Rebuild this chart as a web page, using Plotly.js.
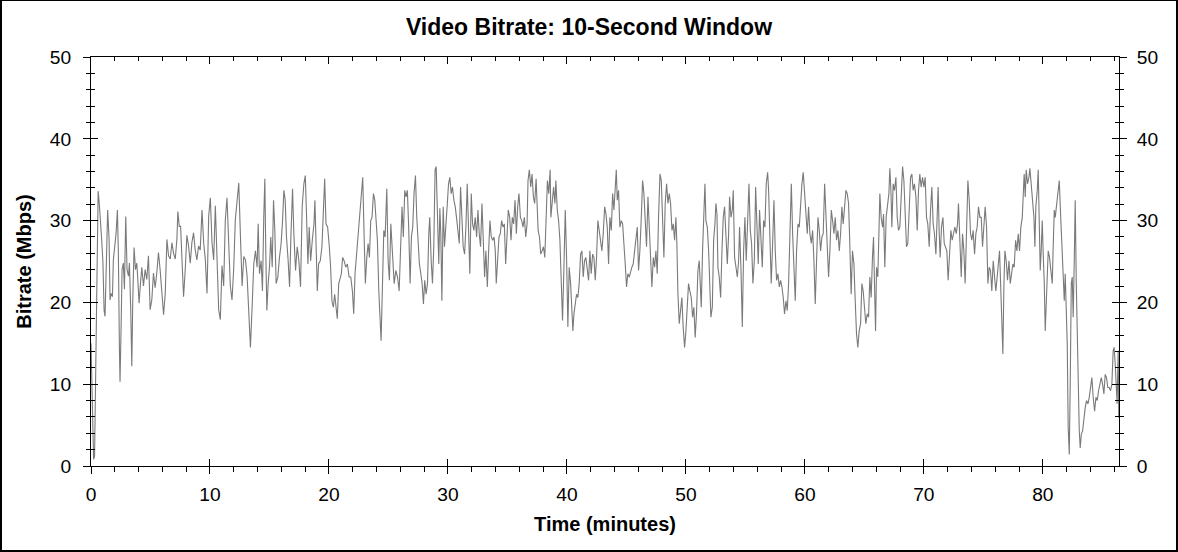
<!DOCTYPE html>
<html>
<head>
<meta charset="utf-8">
<script src="https://cdn.plot.ly/plotly-3.0.1.min.js"></script>
<style>
html,body{margin:0;padding:0;background:#fff;}
#frame{width:1174px;height:549px;border-left:2px solid #000;border-right:2px solid #000;border-bottom:2px solid #000;border-top:1px solid #000;background:#fff;}
#chart{width:1174px;height:549px;}
</style>
</head>
<body>
<div id="frame"><div id="chart"></div></div>
<script>
// Time in minutes
const minutes = [
0.00,0.10,0.22,0.30,0.40,0.50,0.60,0.70,0.80,0.90,1.00,1.10,1.18,1.32,1.40,1.52,1.60,1.69,1.80,1.88,
2.02,2.11,2.22,2.30,2.39,2.44,2.53,2.61,2.72,2.81,2.92,3.03,3.15,3.23,3.34,3.43,3.51,3.62,3.74,3.85,
3.93,4.04,4.16,4.27,4.41,4.55,4.69,4.83,4.97,5.11,5.25,5.39,5.53,5.67,5.81,5.96,6.10,6.24,6.38,6.52,
6.66,6.80,6.94,7.08,7.22,7.30,7.42,7.53,7.64,7.78,7.92,8.06,8.20,8.34,8.48,8.62,8.76,8.90,9.04,9.18,
9.33,9.47,9.61,9.75,9.89,10.03,10.17,10.31,10.45,10.59,10.73,10.87,11.01,11.15,11.29,11.43,11.57,11.71,11.85,11.99,
12.13,12.28,12.42,12.56,12.70,12.84,12.98,13.12,13.26,
13.40,13.54,13.68,13.82,13.96,14.05,14.16,14.30,14.41,14.52,14.61,14.69,14.78,14.89,15.00,15.11,15.23,15.34,15.45,15.56,
15.70,15.84,15.98,16.10,16.21,16.32,16.43,16.57,16.69,16.80,16.94,17.05,17.19,17.33,17.47,17.61,17.75,17.89,18.01,18.12,
18.23,18.34,18.46,18.60,18.74,18.82,18.93,19.02,19.13,19.27,19.41,19.52,19.64,19.75,19.89,20.03,20.14,20.25,20.37,20.48,
20.59,20.70,20.82,20.93,21.04,21.15,21.27,21.41,21.55,21.69,21.83,21.97,22.08,22.19,22.33,22.47,22.59,22.70,22.84,22.95,
23.06,23.18,23.29,23.40,23.51,23.62,23.74,23.85,23.96,24.07,24.19,24.30,24.38,24.50,24.61,24.72,24.86,24.97,25.08,25.20,
25.34,25.48,25.62,25.76,25.90,
26.03,26.14,26.25,26.37,26.48,26.59,26.70,26.82,26.93,27.04,27.15,27.27,27.38,27.49,27.60,27.72,27.83,27.94,28.05,28.16,
28.28,28.39,28.47,28.59,28.70,28.81,28.92,29.01,29.12,29.23,29.32,29.40,29.49,29.60,29.71,29.82,29.93,30.05,30.16,30.27,
30.38,30.50,30.61,30.72,30.83,30.95,31.06,31.17,31.28,31.40,31.51,31.62,31.73,31.84,31.96,32.07,32.18,32.29,32.41,32.52,
32.63,32.74,32.86,32.97,33.08,33.19,33.31,33.42,33.53,33.64,33.76,33.87,33.98,34.06,34.18,34.29,34.40,34.51,34.63,34.74,
34.85,34.96,35.07,35.19,35.30,35.41,35.52,35.64,35.75,35.86,35.97,36.09,36.20,36.31,36.42,36.54,36.65,36.73,36.84,36.96,
37.07,37.18,37.29,37.41,37.49,37.58,37.69,37.80,37.91,38.03,38.14,38.25,38.36,38.47,38.59,
38.65,38.77,38.88,38.99,39.07,39.19,39.30,39.41,39.52,39.63,39.75,39.86,39.97,40.08,40.19,40.31,40.42,40.50,40.59,40.70,
40.81,40.92,41.03,41.15,41.26,41.37,41.48,41.59,41.71,41.82,41.93,42.04,42.16,42.27,42.38,42.49,42.60,42.72,42.83,42.94,
43.05,43.17,43.28,43.39,43.50,43.61,43.73,43.84,43.95,44.06,44.15,44.23,44.34,44.45,44.57,44.68,44.79,44.90,45.01,45.12,
45.24,45.35,45.46,45.57,45.69,45.80,45.91,46.02,46.13,46.25,46.36,46.47,46.58,46.69,46.81,46.92,47.03,47.14,47.26,47.37,
47.48,47.59,47.70,47.82,47.93,48.04,48.15,48.26,48.38,48.49,48.60,48.71,48.83,48.94,49.05,49.16,49.24,49.33,49.44,49.55,
49.66,49.77,49.89,50.00,50.11,50.22,50.33,50.45,50.56,50.67,50.78,50.89,51.01,51.12,
51.18,51.29,51.40,51.52,51.60,51.68,51.80,51.91,52.02,52.10,52.22,52.33,52.44,52.52,52.61,52.69,52.80,52.92,53.03,53.14,
53.25,53.36,53.48,53.59,53.67,53.79,53.90,53.98,54.09,54.21,54.32,54.43,54.51,54.63,54.74,54.85,54.96,55.07,55.19,55.30,
55.41,55.52,55.63,55.75,55.86,55.97,56.08,56.19,56.31,56.42,56.53,56.64,56.75,56.87,56.95,57.06,57.17,57.29,57.40,57.51,
57.62,57.73,57.85,57.96,58.07,58.18,58.29,58.41,58.52,58.63,58.74,58.86,58.97,59.08,59.19,59.30,59.42,59.53,59.64,59.75,
59.86,59.98,60.09,60.20,60.31,60.42,60.54,60.65,60.76,60.87,60.98,61.10,61.21,61.32,61.43,61.54,61.66,61.77,61.88,61.99,
62.10,62.22,62.33,62.44,62.55,62.66,62.78,62.89,63.00,63.11,63.22,63.34,63.45,63.56,63.67,63.75,
63.89,64.00,64.12,64.23,64.34,64.45,64.56,64.68,64.79,64.90,65.01,65.12,65.24,65.35,65.46,65.57,65.68,65.77,65.85,65.94,
66.02,66.13,66.22,66.30,66.41,66.53,66.61,66.72,66.83,66.95,67.06,67.14,67.23,67.31,67.42,67.53,67.65,67.76,67.87,67.98,
68.09,68.21,68.32,68.43,68.54,68.65,68.77,68.88,68.99,69.10,69.21,69.33,69.44,69.55,69.66,69.77,69.89,70.00,70.11,70.22,
70.33,70.45,70.56,70.67,70.78,70.89,71.01,71.12,71.20,71.29,71.37,71.48,71.60,71.71,71.82,71.93,72.04,72.16,72.27,72.38,
72.49,72.60,72.72,72.83,72.91,73.02,73.14,73.25,73.36,73.47,73.58,73.70,73.81,73.92,74.03,74.14,74.26,74.37,74.48,74.59,
74.71,74.82,74.93,75.04,75.15,75.27,75.38,75.49,75.60,75.71,75.83,75.94,76.05,76.16,76.28,76.36,
76.47,76.56,76.64,76.73,76.81,76.92,77.03,77.15,77.26,77.37,77.48,77.59,77.71,77.82,77.93,78.04,78.15,78.27,78.35,78.43,
78.52,78.60,78.71,78.83,78.91,79.02,79.13,79.25,79.33,79.41,79.53,79.61,79.69,79.78,79.86,79.95,80.03,80.12,80.20,80.28,
80.37,80.45,80.56,80.68,80.79,80.87,80.96,81.04,81.15,81.26,81.38,81.49,81.60,81.71,81.80,81.88,81.96,82.05,82.13,82.22,
82.30,82.39,82.47,82.55,82.64,82.72,82.81,82.89,82.97,83.06,83.14,83.23,83.34,83.45,83.56,83.67,83.79,83.90,84.01,84.12,
84.23,84.35,84.46,84.57,84.68,84.79,84.91,85.02,85.13,85.24,85.35,85.46,85.58,85.69,85.80,85.91,85.99,86.08,86.16,86.24,
86.33,86.38
];

// Video bitrate in Mbps (10-second window)
const bitrateMbps = [
15,6,0.8,1.2,11,22,33.6,32,28.8,27.6,25,19,18.3,25.2,31.3,27.7,20.3,21.1,20.7,25.2,
27.3,28.5,31.3,26,14.2,10.3,17,24,24.8,21.6,30.5,24,23.2,24.8,19.1,12.2,20.2,26.7,24,24.8,
22.9,19.9,22.4,24.3,22,24,22.8,25.7,19.1,20.3,23.6,21.8,23.6,26.1,24,21.1,18.5,21.1,27.7,25.7,
25.3,27.3,26,25.3,27.7,31.1,29.3,29.3,26,20.7,24,28.2,26.9,24.8,27.3,28.5,26.4,25.2,26.9,26.4,
31.3,27.3,25.2,21.1,30.5,32.8,27.3,25.2,31.8,24,19.1,17.9,24.5,22,30.1,32.8,27.3,22,20.3,24,
30.1,33,34.6,28.1,22,25.6,25.2,23.2,19.1,
14.5,19.4,24.7,26.3,24.3,29.6,23.5,25.1,21.4,30.4,35.1,26.3,19,22.3,24.3,28,24.3,32.5,28.8,22.3,
23.1,25.5,27.2,30,33.7,32.5,28,25.1,21.9,28,33.9,28.4,23.9,26.8,25.1,21.9,31.7,34.5,35.5,30.4,
24.7,29.2,25.1,27.6,29.6,32.5,25.5,21.4,24.7,25.1,26.8,30.4,35.1,29.6,29.2,26.8,24.3,20.2,19.4,21,
19.8,18,22.3,23.1,23.5,25.5,25.1,24.3,24.7,23.1,23.1,21.4,18.6,23.5,26.3,28.8,30.4,32.5,35.3,28.4,
22.3,25.5,27.2,25.5,30,30.4,33.3,32.5,30.4,27.6,21.4,18.2,15.3,22.3,28.8,28,33.9,25.1,22.7,29.6,
25.9,22.3,23.9,23.1,21.4,
26.8,31.7,28,33.7,32.9,33.7,29.2,22.3,28,29.2,33.3,35.5,30.4,27.2,24.7,23.5,22.3,19.8,22.7,21,
22.3,28.4,30.4,25.1,22.3,26.8,36.2,36.6,30.4,24.7,31.5,28.4,20.2,31.7,26.8,30,31.7,34.5,35.3,33.3,
34.1,32.5,31.7,30.4,29.2,27.2,34.1,30.4,26.8,25.9,29.2,34.5,29.6,23.5,33.3,29.6,28.8,30.4,28,31.3,
28.4,26.8,32.1,28.4,23.1,26.3,21.9,26.3,30,28,27.6,28,26.3,22.3,26.3,28,28.4,30,29.2,29.6,
24.7,28.4,31.3,30.4,27.6,30.4,29.6,32.5,28.4,31.7,33.3,30.4,30,29.2,30.4,28,29.6,34.9,36.2,34.1,
35.7,32.9,32.1,35.1,32.1,28.8,28,25.9,26.3,26.8,25.5,30.4,34.9,33.3,36.2,
30.4,32.9,34.1,32.1,34.9,31.3,30,27.6,21.4,17.8,24.3,31.3,25.5,17,24.3,22.3,19,16.5,18.6,19.8,
21,20.6,22.3,25.9,26.3,23.1,25.1,25.5,24.3,22.7,26.3,23.5,25.9,25.5,22.7,25.5,30,28.8,27.6,26.3,
28.4,31.7,30.8,29.2,24.7,30.4,28.8,33.3,31.3,34.1,36.2,32.5,33.7,29.2,30,29.6,26.3,24.7,21.9,23.5,
23.1,23.9,24.3,24.7,26.3,28.4,29.2,23.9,26.3,30.4,34.9,33.3,30.4,26.8,32.9,29.2,24.3,21.9,25.5,24.3,
26.3,23.5,30.4,35.7,34.9,30.4,25.5,32.1,34.5,32.1,33.3,32.1,28.8,29.6,27.6,30.4,27.2,21,17.4,19,
20.6,17,14.5,16.5,19.8,22.3,21.4,20.6,18.2,19.4,15.7,18.6,23.9,25.1,
23.1,19.4,26.3,32.5,34.5,30,29.2,26.3,20.6,18.2,19.4,27.6,29.6,32.1,30.8,24.3,23.1,20.6,26.3,30.4,
31.7,28,24.7,28.4,32.9,30.4,31.3,33.7,25.5,24.3,23.1,25.1,29.2,23.9,17,26.3,30.4,25.1,29.2,34.5,
28.8,27.2,22.3,25.1,34.1,28,24.7,31.3,27.2,24.3,30,29.2,34.5,35.9,33.7,26.8,22.3,27.2,32.5,26.3,
22.7,23.5,21.9,22.7,21.9,20.6,18.6,20.2,19,22.3,28.8,34.5,28.4,24.7,20.2,26.3,29.6,29.2,32.1,34.5,
35.9,32.9,29.6,28.4,31.7,28.4,27.2,28.8,25.1,19.8,25.1,30.4,28.8,26.3,28,28.4,34.5,30.4,25.1,23.1,
26.3,31.3,30,28.4,30.4,27.6,28.8,26.3,28.4,31.7,29.6,32.1,33.7,33.3,32.1,28.4,
21,26.3,24.7,20.2,16.1,14.5,16.5,17.4,22.3,21.4,19.4,17.4,18.6,18.2,23.1,20.6,25.5,28,22.3,16.5,
24.3,23.1,28.4,33.3,30.4,29.2,30.8,24.3,30.4,31.7,33.3,36.4,33.7,29.2,34.5,33.7,35.3,30.4,28.8,29.2,
33.7,36.6,34.9,31.3,26.8,27.2,32.5,35.3,35.7,33.7,34.5,32.9,28.8,33.7,35.7,34.1,35.3,34.1,35.3,30.4,
29.6,26.8,31.3,34.1,29.6,28.4,25.9,32.1,34.1,28.4,25.5,29.2,30.4,27.2,26.8,26.3,22.7,25.5,28.8,27.6,
28.4,29.2,28.4,29.6,32.1,26.3,23.1,28.4,26.3,22.3,28.4,34.9,32.5,28.4,27.6,28.8,25.9,28.4,29.2,31.7,
30.4,30.4,26.8,29.2,31.7,29.2,22.3,24.3,23.9,21.4,25.1,23.1,21.4,23.1,25.5,26.3,
21.4,18.2,13.7,22.3,26.3,25.1,22.7,25.1,22.3,23.5,24.7,24.3,27.6,26.3,28.4,26.3,29.2,30.4,33.7,35.7,
32.9,36.2,34.5,35.3,36.4,34.1,32.9,30.4,26.8,31.7,33.7,36.2,30.4,23.9,26.3,30,25.9,22.3,16.5,20.2,
23.1,26.3,25.5,23.5,22.3,26.8,31.3,30.4,31.7,33.3,34.9,30.8,26.3,21.4,20.2,23.5,19,14.9,4.7,1.4,
10,22.3,23.1,18.2,25.1,32.5,22.3,16.1,14.1,4.3,2.2,3.9,4.3,5.9,7.1,8,7.6,8.4,10,10.8,
8.4,6.7,8.4,8,9.2,10,10.8,10,8.8,11.2,10.8,9.6,9.6,9.2,10,14.1,14.5,12.5,10,7.6,
14.1,5.9
];

// Axis tick values
const xTickStep = 10;
const xMinorStep = 2;
const yTickStep = 10;
const yMinorStep = 2;
const xRange = [0, 86.4];
const yRange = [0, 50];

const titleText = 'Video Bitrate: 10-Second Window';
const xTitleText = 'Time (minutes)';
const yTitleText = 'Bitrate (Mbps)';

const FONT = 'Liberation Sans, Arial, sans-serif';
const tickFont = {family: FONT, size: 19.2, color: '#000'};

function xAx(extra){
  return Object.assign({type:'linear', range:xRange, dtick:xTickStep, tick0:0, showgrid:false, zeroline:false,
    tickcolor:'#000', tickwidth:1, linecolor:'#000', linewidth:1, fixedrange:true}, extra);
}
function yAx(extra){
  return Object.assign({type:'linear', range:yRange, dtick:yTickStep, tick0:0, showgrid:false, zeroline:false,
    tickcolor:'#000', tickwidth:1, linecolor:'#000', linewidth:1, fixedrange:true}, extra);
}

const traces = [
  {type:'scatter', mode:'lines', x:minutes, y:bitrateMbps, xaxis:'x', yaxis:'y',
   line:{color:'#7a7a7a', width:1.1}, hoverinfo:'skip', showlegend:false},
  {type:'scatter', mode:'lines', x:[], y:[], xaxis:'x2', yaxis:'y', hoverinfo:'skip', showlegend:false},
  {type:'scatter', mode:'lines', x:[], y:[], xaxis:'x3', yaxis:'y', hoverinfo:'skip', showlegend:false},
  {type:'scatter', mode:'lines', x:[], y:[], xaxis:'x', yaxis:'y2', hoverinfo:'skip', showlegend:false},
  {type:'scatter', mode:'lines', x:[], y:[], xaxis:'x', yaxis:'y3', hoverinfo:'skip', showlegend:false},
  {type:'scatter', mode:'lines', x:[], y:[], xaxis:'x', yaxis:'y4', hoverinfo:'skip', showlegend:false}
];

const layout = {
  width:1174, height:549,
  margin:{l:89, r:57, t:56, b:84, pad:0},
  paper_bgcolor:'#fff', plot_bgcolor:'#fff',
  showlegend:false,
  font:{family:FONT, color:'#000'},
  title:{text:titleText, font:{family:FONT, size:23, weight:'bold', color:'#000'},
         xref:'container', x:0.5, xanchor:'center', yref:'container', y:1-25.7/549, yanchor:'middle'},
  xaxis: xAx({side:'bottom', anchor:'y', showline:true, ticks:'outside', ticklen:7,
    minor:{dtick:xMinorStep, tick0:0, ticks:'outside', ticklen:5, tickcolor:'#000', tickwidth:1},
    showticklabels:true, tickfont:tickFont, ticklabelstandoff:4,
    title:{text:xTitleText, font:{family:FONT, size:20, weight:'bold', color:'#000'}, standoff:12}}),
  xaxis2: xAx({overlaying:'x', side:'bottom', anchor:'y', showline:false, ticks:'inside', ticklen:7, showticklabels:false}),
  xaxis3: xAx({overlaying:'x', side:'top', anchor:'y', showline:true, ticks:'inside', ticklen:7,
    minor:{dtick:xMinorStep, tick0:0, ticks:'inside', ticklen:4, tickcolor:'#000', tickwidth:1}, showticklabels:false}),
  yaxis: yAx({side:'left', anchor:'x', showline:true, ticks:'outside', ticklen:7,
    minor:{dtick:yMinorStep, tick0:0, ticks:'outside', ticklen:4, tickcolor:'#000', tickwidth:1},
    showticklabels:true, tickfont:tickFont, ticklabelstandoff:8,
    title:{text:yTitleText, font:{family:FONT, size:20, weight:'bold', color:'#000'}, standoff:12}}),
  yaxis2: yAx({overlaying:'y', side:'left', anchor:'x', showline:false, ticks:'inside', ticklen:7,
    minor:{dtick:yMinorStep, tick0:0, ticks:'inside', ticklen:4, tickcolor:'#000', tickwidth:1}, showticklabels:false}),
  yaxis3: yAx({overlaying:'y', side:'right', anchor:'x', showline:true, ticks:'outside', ticklen:7,
    minor:{dtick:yMinorStep, tick0:0, ticks:'outside', ticklen:4, tickcolor:'#000', tickwidth:1},
    showticklabels:true, tickfont:tickFont, ticklabelstandoff:6}),
  yaxis4: yAx({overlaying:'y', side:'right', anchor:'x', showline:false, ticks:'inside', ticklen:7,
    minor:{dtick:yMinorStep, tick0:0, ticks:'inside', ticklen:4, tickcolor:'#000', tickwidth:1}, showticklabels:false})
};

Plotly.newPlot('chart', traces, layout, {displayModeBar:false, staticPlot:true});
</script>
</body>
</html>
